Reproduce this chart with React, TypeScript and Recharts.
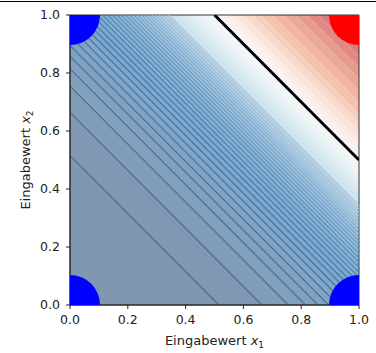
import React from "react";
import {
  ComposedChart,
  Area,
  XAxis,
  YAxis,
  ReferenceLine,
  ReferenceArea,
  Scatter,
} from "recharts";

// axis ticks
const ticks = [0, 0.2, 0.4, 0.6, 0.8, 1.0];

// values of x1 + x2 where the dark contour lines sit
const lineLevels = [
  0.515, 0.664, 0.755, 0.815, 0.858, 0.895, 0.928, 0.958, 0.985, 1.01, 1.033,
  1.055, 1.076, 1.095, 1.113, 1.13, 1.147, 1.163, 1.178, 1.193, 1.207, 1.221,
  1.234, 1.247, 1.26, 1.272, 1.284, 1.296, 1.308, 1.32, 1.331, 1.342,
];

// further band edges of the filled contour (towards the boundary and the red side)
const fillLevels = [
  1.355, 1.37, 1.385, 1.4, 1.415, 1.43, 1.445, 1.46, 1.475, 1.49, 1.5, 1.515,
  1.53, 1.55, 1.57, 1.6, 1.63, 1.66, 1.7, 1.74, 1.78, 1.82, 1.86, 1.9, 1.95,
];

// decision boundary x1 + x2 = 1.5
const boundary = 1.5;

// input points
const bluePoints = [
  { x: 0, y: 0 },
  { x: 0, y: 1 },
  { x: 1, y: 0 },
];
const redPoints = [{ x: 1, y: 1 }];

// colour along x1 + x2
const cmap: [number, string][] = [
  [0, "#8097b0"],
  [0.515, "#8097b0"],
  [0.665, "#819ab5"],
  [0.8, "#82a0bd"],
  [0.95, "#80a6c8"],
  [1.05, "#79a9d1"],
  [1.15, "#84b5da"],
  [1.25, "#a2c9e3"],
  [1.35, "#c8e0ee"],
  [1.45, "#ecf3f7"],
  [1.5, "#f8f7f6"],
  [1.55, "#fbeee8"],
  [1.62, "#f8d8c9"],
  [1.7, "#f3bca6"],
  [1.8, "#e89a8b"],
  [1.9, "#d6727c"],
  [2.0, "#c4516b"],
];

const rgb = (h: string) => [1, 3, 5].map((i) => parseInt(h.slice(i, i + 2), 16));
const toHex = (c: number[]) =>
  "#" + c.map((v) => Math.round(v).toString(16).padStart(2, "0")).join("");

function colorAt(v: number) {
  for (let i = 1; i < cmap.length; i++) {
    if (v <= cmap[i][0]) {
      const [a, ca] = cmap[i - 1];
      const [b, cb] = cmap[i];
      const t = (v - a) / (b - a || 1);
      const A = rgb(ca);
      const B = rgb(cb);
      return toHex(A.map((x, k) => x + (B[k] - x) * t));
    }
  }
  return cmap[cmap.length - 1][1];
}

function lineColor(v: number) {
  const base = rgb(colorAt(v));
  const dark = [5, 48, 97];
  const k = v < 1 ? 0.45 : Math.max(0.12, 0.45 - (v - 1) * 0.9);
  return toHex(base.map((x, i) => x * (1 - k) + dark[i] * k));
}

const clamp = (v: number) => Math.min(1, Math.max(0, v));

const edges = [0, ...lineLevels, ...fillLevels, 2];
const bands = edges.slice(0, -1).map((lo, i) => [lo, edges[i + 1]]);

const xs = Array.from(
  new Set(
    [0, 1, ...edges.map((c) => (c > 1 ? c - 1 : c))].filter(
      (v) => v >= 0 && v <= 1
    )
  )
).sort((a, b) => a - b);
const rows = xs.map((x) => ({ x }));

const font = "DejaVu Sans, sans-serif";

const XLabel = (props: any) => {
  const vb = props.viewBox;
  return (
    <text
      x={vb.x + vb.width / 2}
      y={345}
      textAnchor="middle"
      fontFamily={font}
      fontSize={13}
      fill="#222"
    >
      Eingabewert{" "}
      <tspan fontStyle="italic">x</tspan>
      <tspan fontSize={9} dy={3}>
        1
      </tspan>
    </text>
  );
};

const YLabel = (props: any) => {
  const vb = props.viewBox;
  const cy = vb.y + vb.height / 2;
  return (
    <text
      x={30}
      y={cy}
      transform={`rotate(-90, 30, ${cy})`}
      textAnchor="middle"
      fontFamily={font}
      fontSize={13}
      fill="#222"
    >
      Eingabewert{" "}
      <tspan fontStyle="italic">x</tspan>
      <tspan fontSize={9} dy={3}>
        2
      </tspan>
    </text>
  );
};

const Dot = (color: string) => (p: any) =>
  <circle cx={p.cx} cy={p.cy} r={30} fill={color} />;

export default function App() {
  return (
    <div
      style={{
        position: "absolute",
        left: 0,
        top: 0,
        width: 376,
        height: 353,
        background: "#fff",
      }}
    >
      <div
        style={{
          position: "absolute",
          left: 0,
          top: 1,
          width: 376,
          height: 1,
          background: "#000",
        }}
      />
      <ComposedChart
        width={376}
        height={353}
        data={rows}
        margin={{ top: 15, right: 17, left: 30, bottom: 18 }}
      >
        <XAxis
          type="number"
          dataKey="x"
          domain={[0, 1]}
          ticks={ticks}
          allowDataOverflow
          tickFormatter={(v: number) => v.toFixed(1)}
          tick={{ fontFamily: font, fontSize: 12.5, fill: "#222" }}
          tickSize={4}
          tickMargin={6}
          height={30}
          stroke="#222"
          label={{ content: XLabel }}
        />
        <YAxis
          type="number"
          domain={[0, 1]}
          ticks={ticks}
          allowDataOverflow
          tickFormatter={(v: number) => v.toFixed(1)}
          tick={{ fontFamily: font, fontSize: 12.5, fill: "#222" }}
          tickSize={4}
          tickMargin={6}
          width={40}
          stroke="#222"
          label={{ content: YLabel }}
        />
        {bands.map(([lo, hi], i) => (
          <Area
            key={`band-${i}`}
            type="linear"
            dataKey={(r: { x: number }) => [clamp(lo - r.x), clamp(hi - r.x)]}
            fill={colorAt((lo + hi) / 2)}
            fillOpacity={1}
            stroke="none"
            dot={false}
            activeDot={false}
            isAnimationActive={false}
          />
        ))}
        {lineLevels.map((c) => (
          <ReferenceLine
            key={`line-${c}`}
            segment={[
              { x: Math.max(0, c - 1), y: Math.min(1, c) },
              { x: Math.min(1, c), y: Math.max(0, c - 1) },
            ]}
            stroke={lineColor(c)}
            strokeWidth={1.2}
            ifOverflow="hidden"
          />
        ))}
        <ReferenceLine
          segment={[
            { x: boundary - 1, y: 1 },
            { x: 1, y: boundary - 1 },
          ]}
          stroke="#000"
          strokeWidth={3}
          ifOverflow="hidden"
        />
        <Scatter
          data={bluePoints}
          dataKey="y"
          shape={Dot("#0000ff")}
          isAnimationActive={false}
        />
        <Scatter
          data={redPoints}
          dataKey="y"
          shape={Dot("#ff0000")}
          isAnimationActive={false}
        />
        <ReferenceArea
          x1={0}
          x2={1}
          y1={0}
          y2={1}
          fill="none"
          stroke="#333"
          strokeWidth={1}
          ifOverflow="visible"
        />
      </ComposedChart>
    </div>
  );
}
